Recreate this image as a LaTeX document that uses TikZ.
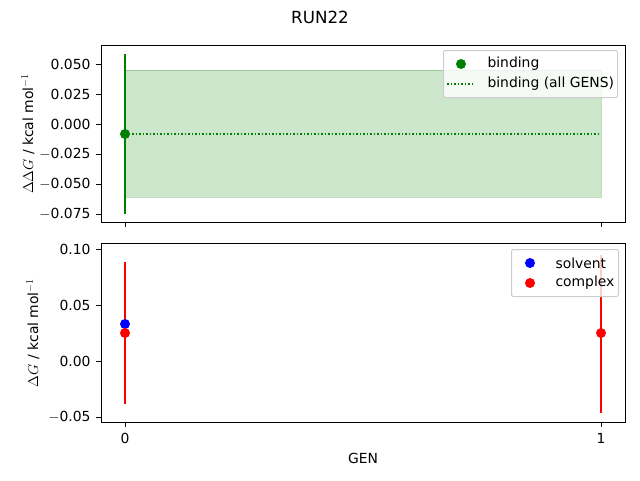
\documentclass[tikz,border=0pt]{standalone}
\usepackage{fontspec}
\setmainfont{DejaVu Sans}
\begin{document}
\begin{tikzpicture}[x=1pt,y=-1pt,
  tick/.style={font=\fontsize{13.9}{16}\selectfont},
  ax/.style={draw=black,line width=0.8pt},
  eb/.style={line width=2pt},
  leg/.style={draw=black!20,fill=white,fill opacity=0.8,text opacity=1,rounded corners=2pt,line width=1pt}]
\useasboundingbox (0,0) rectangle (640,480);
\node[font=\fontsize{16.7}{20}\selectfont] (title) at (320,17) {RUN22};
% top axes
\fill[green!50!black,opacity=0.2] (125,70) rectangle (601,197);
\draw[green!50!black,opacity=0.25,line width=1pt] (125,70) -- (601,70) (125,197) -- (601,197) -- (601,70);
\draw[green!50!black,eb] (125,54) -- (125,214);
\draw[green!50!black,line width=1.5pt,dotted] (125,134) -- (601,134);
\fill[green!50!black] (125,134) circle (5);
\draw[ax] (101,45) rectangle (625,222);
\foreach \y/\l in {64/0.050,94/0.025,124/0.000,154/$-$0.025,184/$-$0.050,214/$-$0.075}{
  \draw[line width=0.8pt] (101,\y) -- (96,\y);
  \node[tick,anchor=east] at (94,\y) {\l};}
\draw[line width=0.8pt] (125,222) -- (125,227) (601,222) -- (601,227);
\node[tick,rotate=90] (yl1) at (28,134) {$\Delta\Delta G$ / kcal mol$^{-1}$};
\node[leg,minimum width=174,minimum height=47,anchor=north west] (leg1) at (443,50) {};
\fill[green!50!black] (461,64) circle (5);
\node[tick,anchor=west] at (484,64) {binding};
\draw[green!50!black,line width=1.5pt,dotted] (447,84) -- (475,84);
\node[tick,anchor=west] at (484,84) {binding (all GENS)};
% bottom axes
\draw[red,eb] (125,262) -- (125,404);
\draw[red,eb] (601,255) -- (601,413);
\fill[blue] (125,324) circle (5);
\fill[red] (125,333) circle (5);
\fill[red] (601,333) circle (5);
\draw[ax] (101,243) rectangle (625,422);
\foreach \y/\l in {249/0.10,305/0.05,361/0.00,417/$-$0.05}{
  \draw[line width=0.8pt] (101,\y) -- (96,\y);
  \node[tick,anchor=east] at (94,\y) {\l};}
\draw[line width=0.8pt] (125,422) -- (125,427) (601,422) -- (601,427);
\node[tick] at (125,438) {0};
\node[tick] at (601,438) {1};
\node[tick] (xl) at (363,458) {GEN};
\node[tick,rotate=90] (yl2) at (33,333) {$\Delta G$ / kcal mol$^{-1}$};
\node[leg,minimum width=107,minimum height=47,anchor=north west] (leg2) at (511,249) {};
\fill[blue] (530,263) circle (5);
\node[tick,anchor=west] at (552,263) {solvent};
\fill[red] (530,283) circle (5);
\node[tick,anchor=west] at (552,283) {complex};
\end{tikzpicture}
\end{document}
